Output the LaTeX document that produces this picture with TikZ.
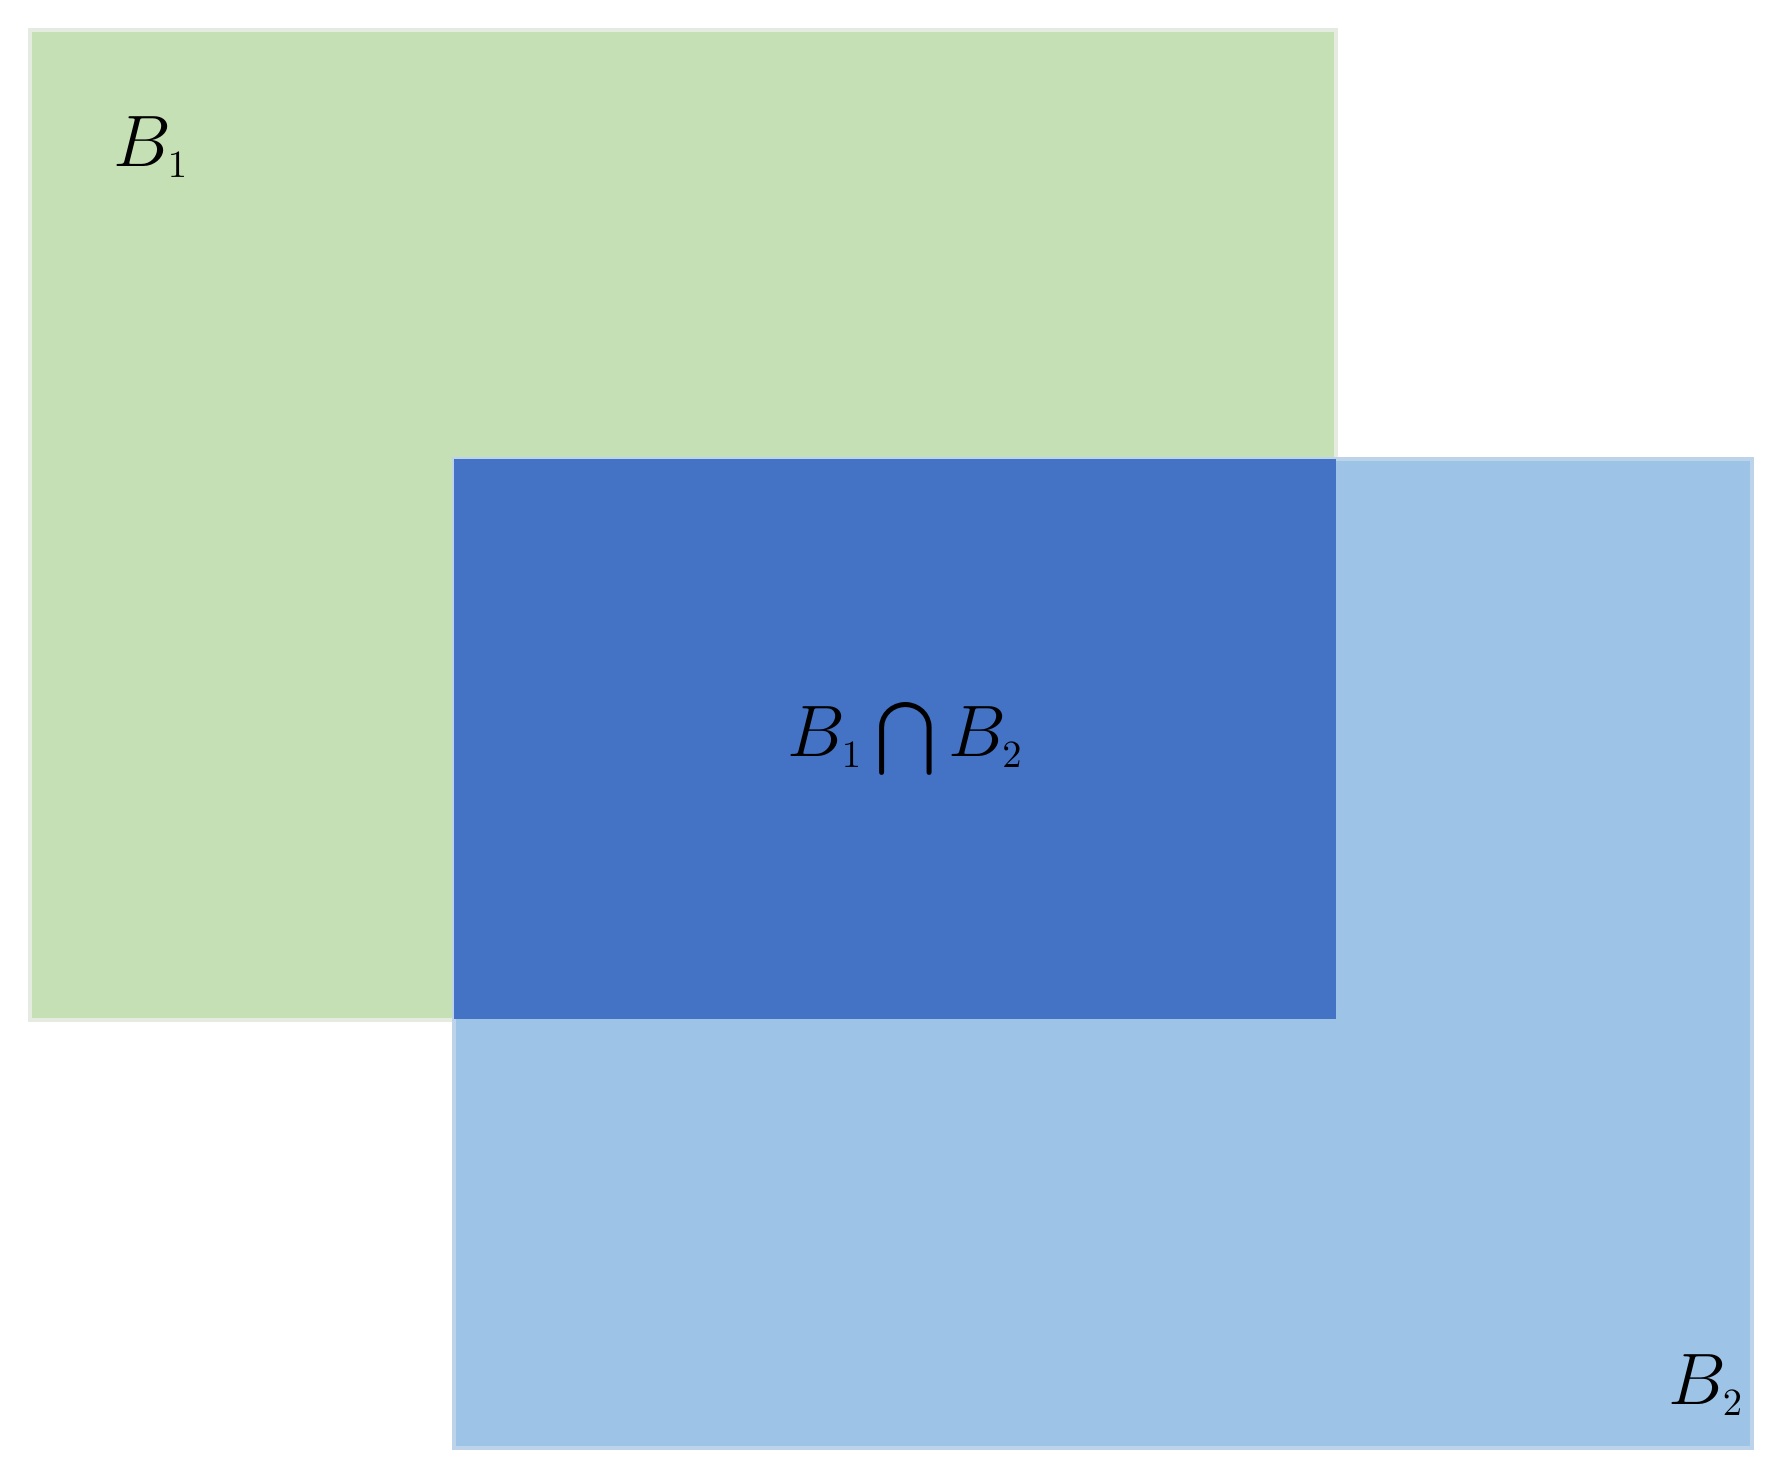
\documentclass[tikz,border=0pt]{standalone}
\usepackage{amsmath}

\tikzstyle{set-box}=[rectangle, anchor=north west, inner sep=0pt, line width=0.04cm]
\tikzstyle{set-label}=[anchor=base west, inner sep=0pt, font=\fontsize{22}{26}\selectfont]
\definecolor{SetOne}{HTML}{C5E0B4}
\definecolor{SetTwo}{HTML}{9DC3E6}
\definecolor{SetBoth}{HTML}{4472C4}
\definecolor{SetOneEdge}{HTML}{E6EBE2}
\definecolor{SetTwoEdge}{HTML}{BCD3EA}
\newcommand{\setname}[1]{B_{\scriptscriptstyle #1}}

\begin{document}
\begin{tikzpicture}[x=0.01cm, y=-0.01cm]
      \useasboundingbox (0,0) rectangle (1781,1480);
      \node (set:1) at (28,28) [set-box, fill={SetOne}, draw={SetOneEdge}, minimum width=13.05cm, minimum height=9.89cm] {};
      \node (set:2) at (452,457) [set-box, fill={SetTwo}, draw={SetTwoEdge}, minimum width=12.97cm, minimum height=9.88cm] {};
      \node (set:12) at (452,457) [set-box, fill={SetBoth}, minimum width=8.81cm, minimum height=5.6cm] {};

      \node (label:1) at (113,167) [set-label] {$\setname{1}$};
      \node (label:2) at (1668,1405) [set-label] {$\setname{2}$};
      \node (label:12) at (787,757) [set-label] {$\setname{1} \bigcap \setname{2}$};
    \end{tikzpicture}
\end{document}
